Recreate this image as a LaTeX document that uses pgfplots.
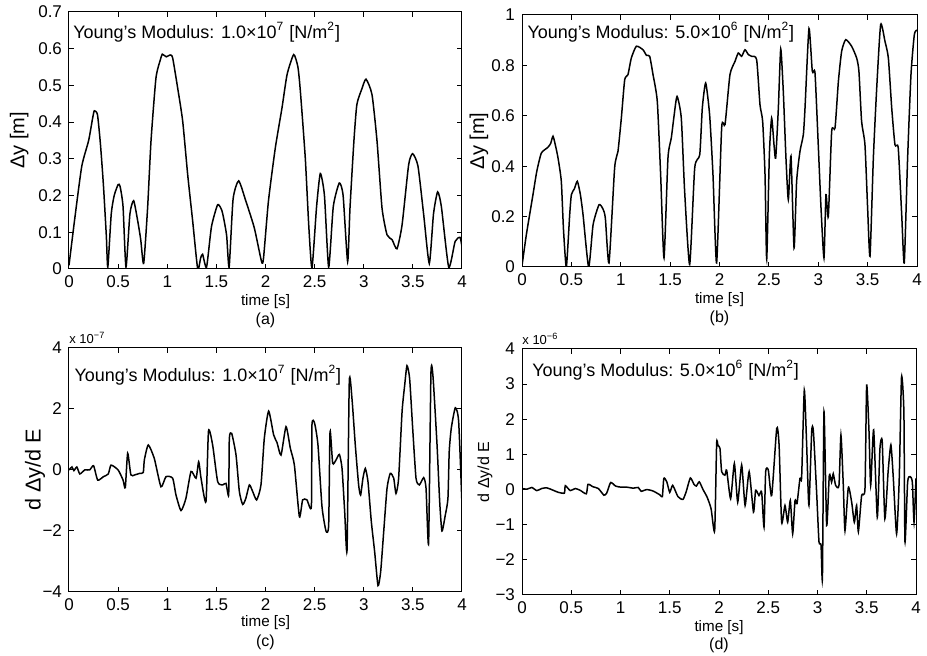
\documentclass[border=0pt]{standalone}
\usepackage{fontspec}
\setmainfont{Liberation Sans}
\usepackage{pgfplots}
\pgfplotsset{compat=1.18}

\newcommand{\fs}[1]{\fontsize{#1}{#1}\selectfont}

\pgfplotsset{
  panel/.style={
    scale only axis, anchor=south west,
    xmin=0, xmax=4,
    xtick={0,0.5,1,1.5,2,2.5,3,3.5,4},
    xticklabels={0,0.5,1,1.5,2,2.5,3,3.5,4},
    tick align=inside, major tick length=2.5pt,
    axis line style={line width=0.5pt},
    every tick/.style={black, line width=0.5pt},
    ticklabel style={font=\fs{8.5}},
    xlabel={time [s]},
    clip mode=individual,
  },
  trace/.style={black, line width=0.75pt, mark=none, smooth, tension=0.35},
}

\begin{document}
\begin{tikzpicture}
\useasboundingbox (0,0) rectangle (463.5pt,328pt);

% (a)
\begin{axis}[panel, at={(34.5pt,193.5pt)}, width=196.5pt, height=128.5pt,
  ymin=0, ymax=0.7, ytick={0,0.1,0.2,0.3,0.4,0.5,0.6,0.7},
  yticklabels={0,0.1,0.2,0.3,0.4,0.5,0.6,0.7},
  ylabel={Δy [m]},
  ylabel style={at={(axis description cs:-0.127,0.5)}, anchor=center, font=\fs{10}},
  xlabel style={at={(axis description cs:0.5,-0.128)}, anchor=center, font=\fs{7.6}}]
\addplot[trace] coordinates {(0,0.01) (0.06,0.14) (0.13,0.28) (0.2,0.35) (0.24,0.41) (0.258,0.431) (0.29,0.42) (0.32,0.34) (0.35,0.23) (0.38,0.09) (0.395,0.005) (0.43,0.15) (0.46,0.2) (0.5,0.23) (0.52,0.225) (0.55,0.17) (0.58,0.005) (0.62,0.15) (0.658,0.186) (0.7,0.13) (0.73,0.08) (0.76,0.015) (0.8,0.166) (0.835,0.35) (0.885,0.52) (0.93,0.57) (0.95,0.585) (0.99,0.578) (1.03,0.583) (1.055,0.575) (1.106,0.493) (1.157,0.403) (1.208,0.257) (1.259,0.13) (1.31,0.0) (1.34,0.03) (1.36,0.04) (1.40,0.005) (1.45,0.115) (1.513,0.175) (1.555,0.16) (1.58,0.13) (1.605,0.09) (1.63,0.005) (1.67,0.19) (1.727,0.24) (1.8,0.185) (1.886,0.112) (1.96,0.02) (1.98,0.03) (2.03,0.185) (2.1,0.33) (2.168,0.439) (2.22,0.53) (2.287,0.584) (2.33,0.55) (2.355,0.484) (2.405,0.302) (2.44,0.12) (2.473,0.003) (2.52,0.17) (2.558,0.26) (2.6,0.2) (2.643,0.005) (2.69,0.17) (2.751,0.234) (2.79,0.2) (2.836,0.02) (2.86,0.166) (2.9,0.349) (2.93,0.448) (2.98,0.49) (3.023,0.517) (3.084,0.475) (3.135,0.349) (3.186,0.166) (3.237,0.093) (3.288,0.08) (3.338,0.055) (3.39,0.12) (3.457,0.284) (3.498,0.314) (3.552,0.28) (3.61,0.148) (3.667,0.015) (3.71,0.15) (3.752,0.21) (3.79,0.17) (3.865,0.005) (3.93,0.075) (3.98,0.086) (4.0,0.06)};
\node[anchor=west, inner sep=0pt, font=\fs{9}] at (axis description cs:0.01,0.922) {Young’s Modulus: 1.0×10\textsuperscript{7} [N/m\textsuperscript{2}]};
\node[anchor=center, font=\fs{8}] at (axis description cs:0.5,-0.198) {(a)};
\end{axis}

% (b)
\begin{axis}[panel, at={(261pt,194.5pt)}, width=197.5pt, height=126pt,
  ymin=0, ymax=1, ytick={0,0.2,0.4,0.6,0.8,1},
  yticklabels={0,0.2,0.4,0.6,0.8,1},
  ylabel={Δy [m]},
  ylabel style={at={(axis description cs:-0.109,0.5)}, anchor=center, font=\fs{10}},
  xlabel style={at={(axis description cs:0.5,-0.131)}, anchor=center, font=\fs{7.6}}]
\addplot[trace] coordinates {(0,0.005) (0.044,0.128) (0.111,0.287) (0.15,0.38) (0.196,0.452) (0.26,0.474) (0.29,0.49) (0.314,0.519) (0.34,0.48) (0.365,0.432) (0.398,0.34) (0.42,0.15) (0.449,0.0) (0.483,0.208) (0.5,0.287) (0.53,0.31) (0.56,0.34) (0.59,0.29) (0.618,0.208) (0.675,0.0) (0.72,0.168) (0.78,0.247) (0.82,0.23) (0.844,0.194) (0.881,0.016) (0.938,0.393) (0.972,0.459) (1.006,0.591) (1.04,0.743) (1.073,0.763) (1.107,0.829) (1.158,0.876) (1.225,0.862) (1.26,0.84) (1.293,0.836) (1.327,0.763) (1.37,0.657) (1.404,0.366) (1.438,0.036) (1.478,0.432) (1.512,0.512) (1.54,0.6) (1.57,0.677) (1.613,0.591) (1.647,0.3) (1.698,0.01) (1.749,0.393) (1.8,0.446) (1.826,0.631) (1.86,0.73) (1.9,0.604) (1.934,0.366) (1.971,0.016) (2.022,0.552) (2.056,0.565) (2.106,0.763) (2.157,0.816) (2.19,0.849) (2.224,0.836) (2.258,0.862) (2.292,0.843) (2.325,0.836) (2.376,0.823) (2.41,0.644) (2.437,0.578) (2.461,0.366) (2.478,0.03) (2.505,0.446) (2.528,0.591) (2.552,0.485) (2.569,0.432) (2.596,0.631) (2.62,0.865) (2.646,0.697) (2.673,0.432) (2.697,0.267) (2.724,0.44) (2.755,0.075) (2.781,0.34) (2.815,0.459) (2.849,0.525) (2.866,0.631) (2.906,0.946) (2.94,0.776) (2.967,0.77) (3.0,0.485) (3.028,0.234) (3.058,0.036) (3.078,0.287) (3.102,0.2) (3.136,0.538) (3.17,0.552) (3.204,0.737) (3.237,0.856) (3.278,0.902) (3.338,0.876) (3.389,0.829) (3.412,0.776) (3.439,0.578) (3.473,0.485) (3.5,0.234) (3.524,0.042) (3.558,0.432) (3.592,0.71) (3.632,0.962) (3.676,0.895) (3.71,0.829) (3.744,0.631) (3.777,0.485) (3.81,0.472) (3.845,0.208) (3.871,0.016) (3.905,0.432) (3.939,0.763) (3.973,0.922) (4.0,0.94)};
\node[anchor=west, inner sep=0pt, font=\fs{9}] at (axis description cs:0.013,0.933) {Young’s Modulus: 5.0×10\textsuperscript{6} [N/m\textsuperscript{2}]};
\node[anchor=center, font=\fs{8}] at (axis description cs:0.5,-0.202) {(b)};
\end{axis}

% (c)
\begin{axis}[panel, at={(34.5pt,32pt)}, width=196.5pt, height=122pt,
  ymin=-4, ymax=4, ytick={-4,-2,0,2,4},
  yticklabels={−4,−2,0,2,4},
  ylabel={d Δy/d E},
  ylabel style={at={(axis description cs:-0.0865,0.5)}, anchor=center, font=\fs{10.8}},
  xlabel style={at={(axis description cs:0.5,-0.127)}, anchor=center, font=\fs{7.6}}]
\addplot[trace] coordinates {(0,0) (0.03,0.1) (0.05,-0.02) (0.08,0.1) (0.11,-0.13) (0.16,0) (0.21,0) (0.25,0.14) (0.292,-0.33) (0.35,-0.22) (0.4,-0.13) (0.428,0.16) (0.5,0) (0.55,-0.33) (0.573,-0.58) (0.597,0.55) (0.63,-0.16) (0.67,-0.16) (0.72,-0.11) (0.756,-0.08) (0.767,0.33) (0.807,0.82) (0.868,0.38) (0.936,-0.55) (0.987,-0.22) (1.055,-0.27) (1.089,-0.82) (1.14,-1.33) (1.19,-0.93) (1.242,-0.05) (1.293,-0.27) (1.32,0.27) (1.344,-0.27) (1.394,-1.04) (1.42,1.28) (1.462,0.82) (1.513,-0.38) (1.564,-0.49) (1.598,-0.44) (1.625,-0.82) (1.632,1.04) (1.656,1.2) (1.7,0.49) (1.734,-0.71) (1.768,-1.13) (1.8,-0.93) (1.836,-0.49) (1.87,-0.71) (1.91,-0.98) (1.954,-0.49) (1.988,1.04) (2.032,1.93) (2.083,1.15) (2.117,0.9) (2.158,0.49) (2.209,1.42) (2.253,0.71) (2.294,0.16) (2.345,-1.53) (2.378,-0.98) (2.422,-0.98) (2.467,-1.2) (2.473,1.48) (2.5,1.53) (2.534,0.82) (2.575,-1.2) (2.616,-2.0) (2.643,-1.8) (2.657,1.26) (2.684,0.22) (2.718,0.33) (2.752,0.51) (2.779,0.05) (2.806,-1.37) (2.83,-2.62) (2.853,2.9) (2.88,2.35) (2.914,0.82) (2.948,-0.49) (2.968,-0.82) (2.992,-0.27) (3.016,0.05) (3.043,-0.38) (3.077,-1.69) (3.111,-2.68) (3.145,-3.79) (3.172,-3.34) (3.203,-2.03) (3.237,-0.6) (3.27,-0.11) (3.305,-0.27) (3.328,-0.77) (3.355,-0.27) (3.39,1.91) (3.417,2.79) (3.44,3.42) (3.467,3.0) (3.498,1.37) (3.532,-0.27) (3.566,-0.49) (3.61,-0.25) (3.634,-0.6) (3.66,-2.4) (3.684,3.17) (3.705,3.06) (3.746,0.82) (3.773,-1.04) (3.796,-2.0) (3.83,-1.48) (3.857,-0.93) (3.87,0.6) (3.891,1.37) (3.932,2.04) (3.966,1.59) (4.0,-1.15)};
\node[anchor=west, inner sep=0pt, font=\fs{9}] at (axis description cs:0.013,0.889) {Young’s Modulus: 1.0×10\textsuperscript{7} [N/m\textsuperscript{2}]};
\node[anchor=south west, font=\fs{6.5}, inner sep=0pt, yshift=2pt] at (axis description cs:0,1) {x 10\textsuperscript{−7}};
\node[anchor=center, font=\fs{8}] at (axis description cs:0.5,-0.205) {(c)};
\end{axis}

% (d)
\begin{axis}[panel, at={(261pt,30.5pt)}, width=197pt, height=123pt,
  ymin=-3, ymax=4, ytick={-3,-2,-1,0,1,2,3,4},
  yticklabels={−3,−2,−1,0,1,2,3,4},
  ylabel={d Δy/d E},
  ylabel style={at={(axis description cs:-0.094,0.5)}, anchor=center, font=\fs{8}},
  xlabel style={at={(axis description cs:0.5,-0.134)}, anchor=center, font=\fs{7.6}}]
\addplot[trace] coordinates {(0,0.03) (0.05,0.01) (0.1,0.06) (0.15,-0.03) (0.2,0.03) (0.25,0.05) (0.3,0.0) (0.37,-0.08) (0.43,-0.1) (0.44,0.11) (0.49,-0.03) (0.54,0.03) (0.59,-0.02) (0.653,-0.12) (0.67,0.15) (0.72,0.08) (0.775,0.03) (0.832,-0.16) (0.86,-0.1) (0.9,0.2) (0.95,0.1) (1.0,0.07) (1.06,0.07) (1.13,0.04) (1.18,0.06) (1.21,-0.05) (1.265,0.0) (1.33,-0.04) (1.4,-0.15) (1.425,-0.2) (1.44,0.32) (1.47,0.22) (1.5,-0.08) (1.53,0.12) (1.583,-0.2) (1.634,-0.28) (1.668,-0.05) (1.709,0.33) (1.746,0.15) (1.77,0.1) (1.8,0.22) (1.838,0.0) (1.88,-0.22) (1.92,-0.55) (1.956,-1.17) (1.976,1.3) (1.99,1.25) (2.01,1.17) (2.027,0.51) (2.06,0.41) (2.078,0.55) (2.118,-0.26) (2.156,0.74) (2.19,-0.36) (2.23,0.7) (2.265,-0.45) (2.306,0.51) (2.35,-0.64) (2.372,-0.02) (2.406,-0.17) (2.433,-0.07) (2.457,-1.07) (2.474,0.51) (2.501,0.55) (2.535,-0.17) (2.586,1.74) (2.61,1.27) (2.636,-0.93) (2.67,-0.45) (2.697,-0.93) (2.724,-0.31) (2.748,-1.26) (2.772,-0.31) (2.792,-0.4) (2.822,0.32) (2.839,0.36) (2.866,2.83) (2.89,1.27) (2.913,-0.45) (2.941,1.65) (2.958,1.67) (2.991,-0.07) (3.015,-1.48) (3.036,-1.58) (3.05,-2.52) (3.066,2.22) (3.093,-1.02) (3.12,0.41) (3.143,0.21) (3.16,0.45) (3.184,0.12) (3.218,0.12) (3.238,1.55) (3.262,0.12) (3.279,-1.17) (3.313,0.06) (3.347,-0.36) (3.374,-0.93) (3.397,-0.45) (3.415,-1.2) (3.448,-0.17) (3.482,0.02) (3.499,2.97) (3.523,1.65) (3.54,0.12) (3.57,1.7) (3.607,-0.79) (3.634,1.17) (3.657,1.37) (3.684,-0.83) (3.717,0.51) (3.745,1.27) (3.769,0.36) (3.803,-1.26) (3.83,0.32) (3.853,3.2) (3.877,2.22) (3.888,-1.48) (3.915,0.21) (3.939,0.37) (3.963,0.21) (3.98,-0.93) (4.0,0.32)};
\node[anchor=west, inner sep=0pt, font=\fs{9}] at (axis description cs:0.025,0.915) {Young’s Modulus: 5.0×10\textsuperscript{6} [N/m\textsuperscript{2}]};
\node[anchor=south west, font=\fs{6.5}, inner sep=0pt, yshift=2pt] at (axis description cs:0,1) {x 10\textsuperscript{−6}};
\node[anchor=center, font=\fs{8}] at (axis description cs:0.5,-0.203) {(d)};
\end{axis}
\end{tikzpicture}
\end{document}
